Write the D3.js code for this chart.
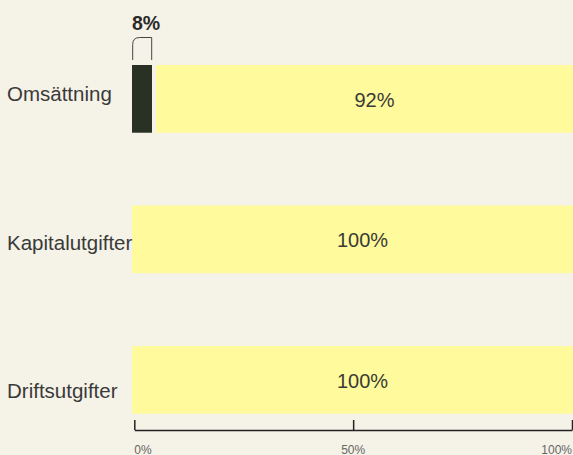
<!DOCTYPE html>
<html><head><meta charset="utf-8">
<script src="https://cdn.jsdelivr.net/npm/d3@7"></script>
<style>
html,body{margin:0;padding:0;background:#f5f2e8;overflow:hidden;}
svg{display:block;font-family:"Liberation Sans",Arial,sans-serif;}
</style></head><body>
<svg id="c" width="573" height="455"></svg>
<script>
const categories = ["Omsättning", "Kapitalutgifter", "Driftsutgifter"];
const highlightValues = [8, 0, 0];     // dark segment (%)
const restValues = [92, 100, 100];     // yellow segment (%)
const axisTicks = [0, 50, 100];
const tickLabels = ["0%", "50%", "100%"];

const W = 573, H = 455;
const svg = d3.select("#c");
svg.append("rect").attr("width", W).attr("height", H).attr("fill", "#f5f2e8");

// bar scale (piecewise, as rendered in the reference)
const x = d3.scaleLinear().domain([0, 8, 100]).range([132, 152, 593]);
const xAxisScale = d3.scaleLinear().domain([0, 100]).range([134.3, 572]);
const y = d3.scaleBand().domain(categories).range([65, 413.7]).paddingInner(0.518).paddingOuter(0);
const yLabel = d3.scalePoint().domain(categories).range([101, 398]);
const gap = 4;

const rows = categories.map((c, i) => ({c, h: highlightValues[i], r: restValues[i]}));

// dark segments
svg.selectAll("rect.hi").data(rows.filter(d => d.h > 0)).join("rect")
  .attr("class", "hi")
  .attr("x", d => x(0)).attr("y", d => y(d.c))
  .attr("width", d => x(d.h) - x(0)).attr("height", y.bandwidth())
  .attr("fill", "#283124");

// yellow segments
svg.selectAll("rect.rest").data(rows).join("rect")
  .attr("class", "rest")
  .attr("x", d => d.h > 0 ? x(d.h) + gap : x(0)).attr("y", d => y(d.c))
  .attr("width", d => x(d.h + d.r) - (d.h > 0 ? x(d.h) + gap : x(0)))
  .attr("height", y.bandwidth())
  .attr("fill", "#fffa9b");

// value labels inside yellow
svg.selectAll("text.val").data(rows).join("text")
  .attr("class", "val")
  .attr("x", d => ((d.h > 0 ? x(d.h) + gap : x(0)) + x(d.h + d.r)) / 2)
  .attr("y", d => y(d.c) + y.bandwidth() / 2 + 8)
  .attr("text-anchor", "middle")
  .attr("font-size", 20)
  .attr("fill", "#3a3a36")
  .text(d => d.r + "%");

// highlight label + bracket
rows.filter(d => d.h > 0).forEach(d => {
  const x0 = x(0) + 0.7, x1 = x(d.h) - 0.3;
  const top = 37.5, bot = y(d.c) - 5, r = 7;
  svg.append("path")
    .attr("d", `M${x0},${bot} V${top + r} Q${x0},${top} ${x0 + r},${top} H${x1} V${bot}`)
    .attr("fill", "none").attr("stroke", "#444").attr("stroke-width", 1);
  svg.append("text")
    .attr("x", x(0)).attr("y", 30)
    .attr("font-size", 19.5).attr("font-weight", "bold")
    .attr("fill", "#2a2a28")
    .text(d.h + "%");
});

// category labels
svg.selectAll("text.cat").data(categories).join("text")
  .attr("class", "cat")
  .attr("x", 7).attr("y", d => yLabel(d))
  .attr("font-size", 20.5)
  .attr("fill", "#3a3a38")
  .text(d => d);

// axis
const axisY = 430;
const ax = svg.append("g").attr("transform", `translate(0,${axisY})`)
  .call(d3.axisTop(xAxisScale).tickValues(axisTicks).tickSize(10).tickSizeOuter(0).tickFormat(""));
ax.select(".domain").attr("stroke", "#222").attr("stroke-width", 1.5);
ax.selectAll(".tick line").attr("stroke", "#222").attr("stroke-width", 1.5);

svg.selectAll("text.tick").data(axisTicks).join("text")
  .attr("class", "tick")
  .attr("x", d => xAxisScale(d))
  .attr("y", 454)
  .attr("text-anchor", (d, i) => i === 0 ? "start" : (i === axisTicks.length - 1 ? "end" : "middle"))
  .attr("font-size", 12)
  .attr("fill", "#666")
  .text((d, i) => tickLabels[i]);
</script>
</body></html>
